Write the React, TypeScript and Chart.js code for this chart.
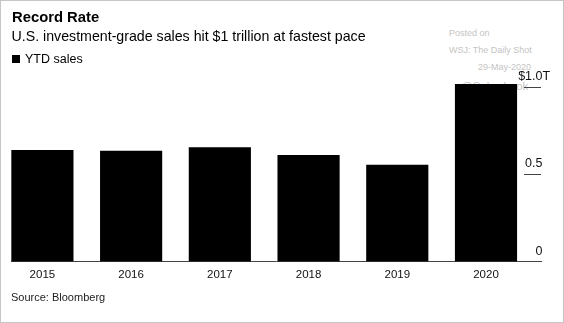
import React, { useEffect, useRef } from "react";
import { Chart, registerables } from "chart.js";

Chart.register(...registerables);

const years = ["2015", "2016", "2017", "2018", "2019", "2020"];
const ytdSales = [0.637, 0.633, 0.653, 0.609, 0.553, 1.015];
const yTickValues = [0, 0.5, 1.0];
const yTickLabels = ["0", "0.5", "$1.0"];
const yTickSuffix = ["", "", "T"];

const FONT = "'Liberation Sans', Arial, sans-serif";

const yAxisPlugin = {
  id: "rightTicks",
  afterDraw(chart: any) {
    const ctx = chart.ctx;
    const y = chart.scales.y;
    const right = chart.chartArea.right;
    ctx.save();
    yTickValues.forEach((v, i) => {
      const py = Math.round(y.getPixelForValue(v)) + 0.5;
      if (v !== 0) {
        ctx.strokeStyle = "#444";
        ctx.lineWidth = 1;
        ctx.beginPath();
        ctx.moveTo(right - 17, py);
        ctx.lineTo(right, py);
        ctx.stroke();
      }
      ctx.fillStyle = "#111";
      ctx.font = `12.5px ${FONT}`;
      ctx.textBaseline = "alphabetic";
      ctx.textAlign = "right";
      ctx.fillText(yTickLabels[i], right + 1.5, py - 8);
      if (yTickSuffix[i]) {
        ctx.textAlign = "left";
        ctx.fillText(yTickSuffix[i], right + 1.5, py - 8);
      }
    });
    ctx.restore();
  },
};

export default function App() {
  const ref = useRef<HTMLCanvasElement>(null);
  useEffect(() => {
    if (!ref.current) return;
    const chart = new Chart(ref.current, {
      type: "bar",
      data: {
        datasets: [
          {
            label: "YTD sales",
            data: years.map((_, i) => ({ x: i, y: ytdSales[i] })),
            backgroundColor: "#000",
            borderWidth: 0,
            barThickness: 61.5,
          },
        ],
      },
      options: {
        animation: false,
        responsive: false,
        maintainAspectRatio: false,
        events: [],
        layout: { padding: { left: 11, right: 23, top: 69.55, bottom: 31.5 } },
        plugins: { legend: { display: false }, tooltip: { enabled: false }, title: { display: false } },
        scales: {
          x: {
            type: "linear",
            min: -0.354,
            max: 5.62,
            offset: false,
            afterBuildTicks: (axis: any) => {
              axis.ticks = years.map((_, i) => ({ value: i }));
            },
            afterFit: (scale: any) => {
              scale.height = 30;
            },
            ticks: {
              callback: (v: any) => years[v] ?? "",
              color: "#111",
              font: { family: FONT, size: 11.5 },
              padding: 6,
              maxRotation: 0,
              autoSkip: false,
            },
            grid: { display: false, drawTicks: false },
            border: { display: true, color: "#444", width: 1 },
          },
          y: {
            display: false,
            min: 0,
            max: 1.1,
          },
        },
      },
      plugins: [yAxisPlugin],
    });
    return () => chart.destroy();
  }, []);

  const txt = (s: React.CSSProperties): React.CSSProperties => ({
    position: "absolute",
    fontFamily: FONT,
    whiteSpace: "nowrap",
    lineHeight: 1,
    margin: 0,
    ...s,
  });
  const wm = "#c4c4c4";

  return (
    <div
      style={{
        position: "absolute",
        left: 0,
        top: 0,
        width: 564,
        height: 323,
        background: "#fff",
        overflow: "hidden",
      }}
    >
      <div style={txt({ left: 449, top: 29.2, fontSize: 9, color: wm })}>Posted on</div>
      <div style={txt({ left: 449, top: 46.2, fontSize: 9, color: wm })}>WSJ: The Daily Shot</div>
      <div style={txt({ left: 478, top: 63, fontSize: 9, color: wm })}>29-May-2020</div>
      <div style={txt({ left: 461, top: 80.5, fontSize: 11.5, color: wm })}>@SoberLook</div>
      <canvas
        ref={ref}
        width={564}
        height={323}
        style={{ position: "absolute", left: 0, top: 0, width: 564, height: 323 }}
      />
      <div style={txt({ left: 12, top: 10, fontSize: 14.8, fontWeight: 700, color: "#000" })}>Record Rate</div>
      <div style={txt({ left: 11.5, top: 29, fontSize: 14.2, color: "#000" })}>
        U.S. investment-grade sales hit $1 trillion at fastest pace
      </div>
      <div style={{ position: "absolute", left: 12, top: 55, width: 8, height: 8, background: "#000" }} />
      <div style={txt({ left: 25, top: 52.7, fontSize: 12.5, color: "#000" })}>YTD sales</div>
      <div style={txt({ left: 11, top: 291.7, fontSize: 11, color: "#222" })}>Source: Bloomberg</div>
      <div
        style={{
          position: "absolute",
          left: 0,
          top: 0,
          width: 564,
          height: 323,
          boxSizing: "border-box",
          border: "1px solid #c6c6c6",
          pointerEvents: "none",
        }}
      />
    </div>
  );
}
